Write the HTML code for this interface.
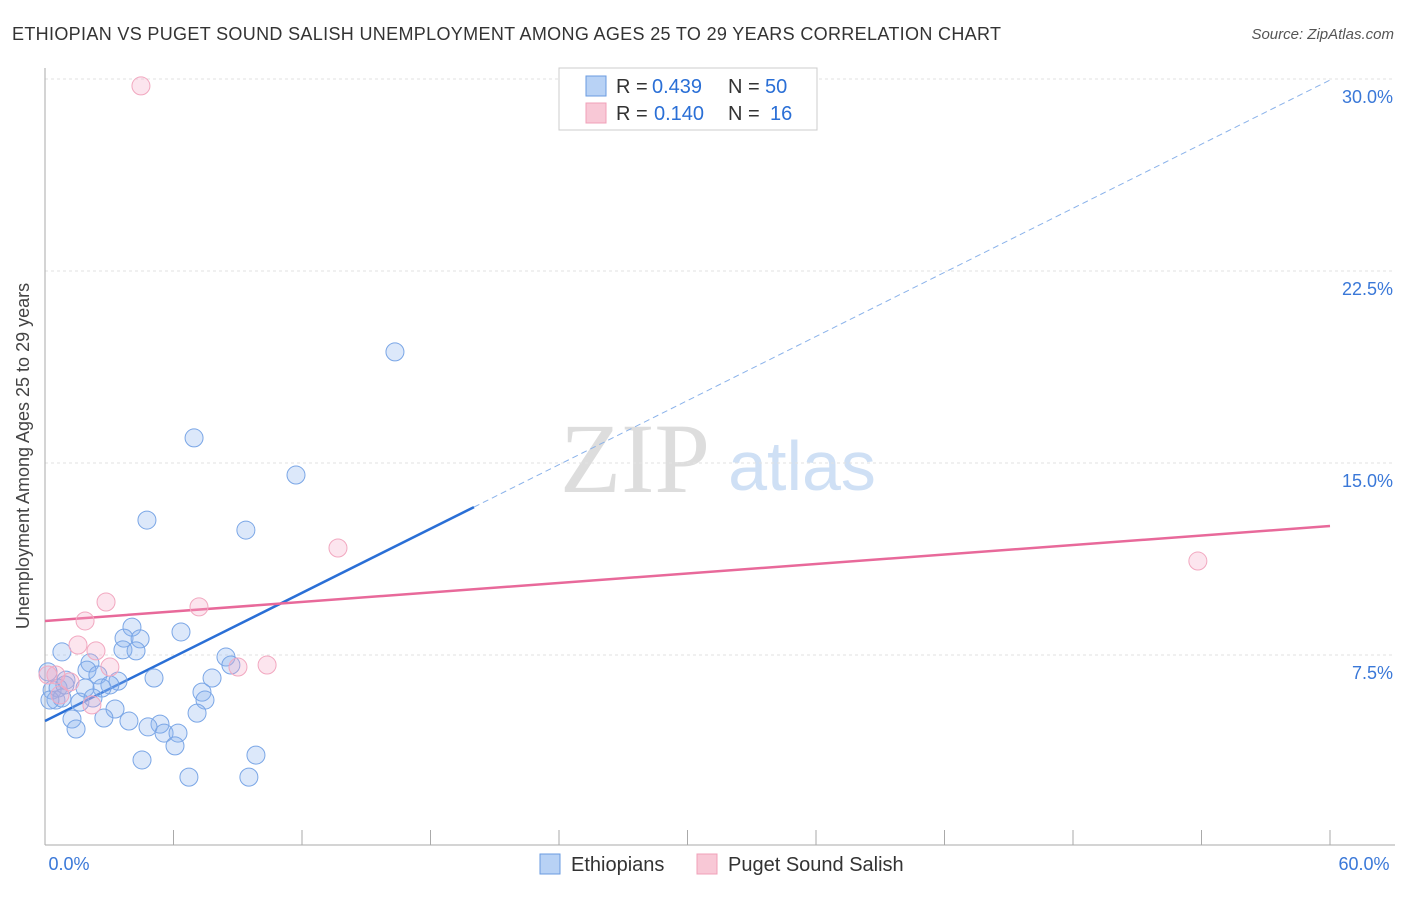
<!DOCTYPE html>
<html><head><meta charset="utf-8"><style>
body{margin:0;background:#fff;font-family:"Liberation Sans",sans-serif;}
svg text{font-family:"Liberation Sans",sans-serif;}
</style></head><body>
<svg id="chart" width="1406" height="892">
<text x="12" y="40" font-size="18" fill="#333" textLength="989">ETHIOPIAN VS PUGET SOUND SALISH UNEMPLOYMENT AMONG AGES 25 TO 29 YEARS CORRELATION CHART</text>
<text x="1394" y="39" font-size="15" fill="#555" text-anchor="end" font-style="italic">Source: ZipAtlas.com</text>
<text x="29" y="456" font-size="18" fill="#444" text-anchor="middle" transform="rotate(-90 29 456)">Unemployment Among Ages 25 to 29 years</text>
<text x="635" y="492" font-size="100" fill="#ddd" font-family="Liberation Serif" text-anchor="middle" style="font-family:'Liberation Serif',serif">ZIP</text>
<text x="802" y="490" font-size="70" fill="#cfe0f5" text-anchor="middle">atlas</text>
<g id="grid"></g><g id="axes"></g><g id="trend"></g><g id="pts"></g>
<g>
<rect x="559" y="68" width="258" height="62" fill="#fff" stroke="#ccc"/>
<rect x="586" y="76" width="20" height="20" fill="#b8d2f5" stroke="#6a9be0"/>
<text y="93" font-size="20" fill="#333"><tspan x="616">R =</tspan><tspan x="652" fill="#2a6fd6">0.439</tspan><tspan x="728">N =</tspan><tspan x="765" fill="#2a6fd6">50</tspan></text>
<rect x="586" y="103" width="20" height="20" fill="#f8c8d6" stroke="#f0a0b8"/>
<text y="120" font-size="20" fill="#333"><tspan x="616">R =</tspan><tspan x="654" fill="#2a6fd6">0.140</tspan><tspan x="728">N =</tspan><tspan x="770" fill="#2a6fd6">16</tspan></text>
</g>
<g>
<rect x="540" y="854" width="20" height="20" fill="#b8d2f5" stroke="#6a9be0"/>
<text x="571" y="871" font-size="20" fill="#333">Ethiopians</text>
<rect x="697" y="854" width="20" height="20" fill="#f8c8d6" stroke="#f0a0b8"/>
<text x="728" y="871" font-size="20" fill="#333">Puget Sound Salish</text>
</g>
</svg>
<script>
const xTicks=[0,60];
const yTicks=[7.5,15,22.5,30];
const blueX=[16.34,6.96,11.72,4.76,9.38,6.35,4.06,3.69,4.44,3.64,4.25,0.79,2.10,1.96,8.45,8.68,2.47,5.09,7.80,0.98,3.41,3.03,2.66,1.87,7.33,7.47,0.33,0.51,1.63,2.24,3.27,7.10,1.26,2.75,3.92,5.37,4.81,5.56,6.21,1.45,6.07,9.85,4.53,6.72,9.52,0.14,0.61,0.79,0.23,0.93];
const blueY=[19.34,15.98,14.53,12.77,12.38,8.40,8.59,8.16,8.13,7.70,7.66,7.62,7.19,6.91,7.42,7.11,6.72,6.60,6.60,6.52,6.48,6.33,6.21,6.21,6.05,5.74,6.13,5.74,5.66,5.82,5.39,5.23,5.00,5.04,4.92,4.80,4.69,4.45,4.45,4.61,3.95,3.59,3.40,2.73,2.73,6.84,6.21,5.82,5.74,6.33];
const pinkX=[4.48,53.83,13.68,2.85,7.19,1.87,1.54,2.38,3.03,10.37,9.01,0.51,1.17,0.14,2.19,0.70];
const pinkY=[29.73,11.17,11.68,9.57,9.38,8.83,7.89,7.66,7.03,7.11,7.03,6.72,6.45,6.72,5.55,5.94];
const blueTrend=[4.92,0.4173];
const pinkTrend=[8.83,0.0618];
const X=v=>45+v/60*1285, Y=v=>847-v*25.6;
const NS='http://www.w3.org/2000/svg';
function mk(t,a,p){const e=document.createElementNS(NS,t);for(const k in a)e.setAttribute(k,a[k]);p.appendChild(e);return e;}
const g=document.getElementById('grid'),ax=document.getElementById('axes'),tr=document.getElementById('trend'),pts=document.getElementById('pts');
yTicks.forEach(v=>{
 const l=mk('line',{x1:45,x2:1395,y1:Y(v),y2:Y(v),stroke:'#e2e2e2','stroke-dasharray':'3,3'},g);
 
 
 const t=mk('text',{x:1393,y:Y(v)+24,'font-size':18,fill:'#3a78d8','text-anchor':'end'},g);t.textContent=v.toFixed(1)+'%';
 
 
});
mk('line',{x1:45,x2:45,y1:68,y2:845,stroke:'#aaa'},ax);
mk('line',{x1:45,x2:1395,y1:845,y2:845,stroke:'#aaa'},ax);
for(let i=0;i<=10;i++){const x=X(i*6);const l=mk('line',{x1:x,x2:x,y1:830,y2:845,stroke:'#aaa'},ax);
 
 }
xTicks.forEach((v,i)=>{const t=mk('text',{x:X(v)+(i?34:24),y:870,'font-size':18,fill:'#3a78d8','text-anchor':'middle'},ax);t.textContent=v.toFixed(1)+'%';
 
 });
const bx=20.03;
let l=mk('line',{x1:X(0),y1:Y(blueTrend[0]),x2:X(bx),y2:Y(blueTrend[0]+blueTrend[1]*bx),stroke:'#2a6fd6','stroke-width':2.5},tr);


l=mk('line',{x1:X(bx),y1:Y(blueTrend[0]+blueTrend[1]*bx),x2:X(60),y2:Y(blueTrend[0]+blueTrend[1]*60),stroke:'#8ab2ea','stroke-width':1,'stroke-dasharray':'6,4'},tr);


l=mk('line',{x1:X(0),y1:Y(pinkTrend[0]),x2:X(60),y2:Y(pinkTrend[0]+pinkTrend[1]*60),stroke:'#e8699a','stroke-width':2.5},tr);


blueX.forEach((v,i)=>{const c=mk('circle',{cx:X(v),cy:Y(blueY[i]),r:9,fill:'rgba(140,180,240,0.3)',stroke:'#7aa6e6','stroke-width':1},pts);
 
 });
pinkX.forEach((v,i)=>{const c=mk('circle',{cx:X(v),cy:Y(pinkY[i]),r:9,fill:'rgba(245,170,200,0.3)',stroke:'#f2a8c0','stroke-width':1},pts);
 
 });
</script>
</body></html>
